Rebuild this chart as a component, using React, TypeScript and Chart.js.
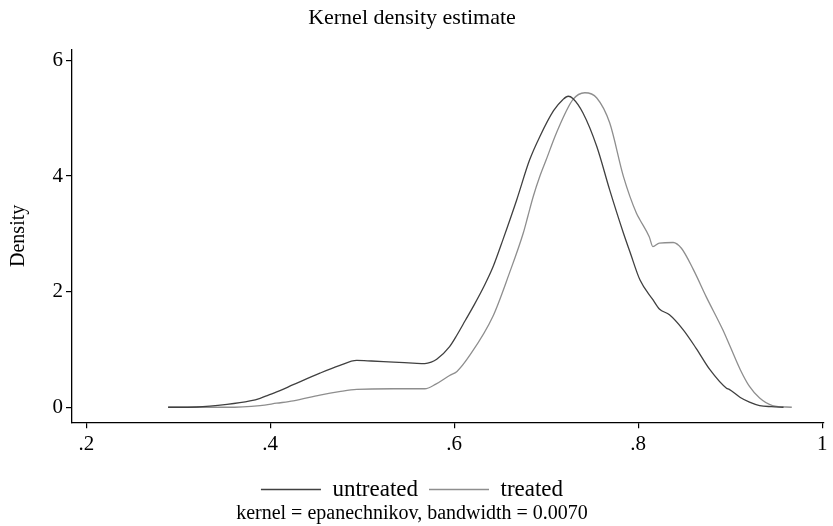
import React, { useEffect, useRef } from "react";
import { Chart, registerables } from "chart.js";

Chart.register(...registerables);

const untreatedX = [0.289, 0.320, 0.353, 0.378, 0.389, 0.398, 0.407, 0.425, 0.454, 0.475, 0.494, 0.510, 0.534, 0.555, 0.568, 0.575, 0.581, 0.595, 0.603, 0.612, 0.622, 0.632, 0.642, 0.653, 0.668, 0.682, 0.693, 0.708, 0.718, 0.724, 0.729, 0.740, 0.755, 0.769, 0.784, 0.791, 0.802, 0.816, 0.823, 0.834, 0.849, 0.863, 0.878, 0.896, 0.899, 0.911, 0.921, 0.932, 0.945, 0.958];
const untreatedY = [0, 0.005, 0.05, 0.11, 0.155, 0.21, 0.265, 0.39, 0.59, 0.72, 0.81, 0.80, 0.78, 0.765, 0.755, 0.78, 0.83, 1.05, 1.25, 1.50, 1.78, 2.08, 2.42, 2.90, 3.59, 4.28, 4.68, 5.13, 5.32, 5.38, 5.34, 5.09, 4.51, 3.76, 3.01, 2.69, 2.20, 1.86, 1.70, 1.60, 1.34, 1.02, 0.65, 0.33, 0.31, 0.17, 0.09, 0.03, 0.01, 0];

const treatedX = [0.289, 0.353, 0.389, 0.407, 0.425, 0.454, 0.475, 0.494, 0.534, 0.568, 0.580, 0.595, 0.603, 0.617, 0.642, 0.660, 0.675, 0.680, 0.686, 0.693, 0.700, 0.711, 0.729, 0.742, 0.755, 0.769, 0.784, 0.798, 0.802, 0.812, 0.816, 0.823, 0.838, 0.847, 0.860, 0.874, 0.892, 0.900, 0.911, 0.921, 0.932, 0.946, 0.967];
const treatedY = [0, 0.0, 0.03, 0.07, 0.11, 0.21, 0.27, 0.31, 0.32, 0.32, 0.40, 0.55, 0.62, 0.90, 1.57, 2.32, 3.01, 3.30, 3.65, 3.99, 4.28, 4.74, 5.32, 5.44, 5.35, 4.92, 3.99, 3.36, 3.24, 2.95, 2.78, 2.84, 2.85, 2.75, 2.38, 1.91, 1.34, 1.05, 0.65, 0.36, 0.16, 0.03, 0];

const xTicks = [0.2, 0.4, 0.6, 0.8, 1];
const yTicks = [0, 2, 4, 6];

const seriesNames = ["untreated", "treated"];
const titleText = "Kernel density estimate";
const yTitleText = "Density";
const noteText = "kernel = epanechnikov, bandwidth = 0.0070";

const FONT = "'Liberation Serif', 'Times New Roman', serif";

export default function App() {
  const ref = useRef<HTMLCanvasElement | null>(null);

  useEffect(() => {
    if (!ref.current) return;
    const toPts = (xs: number[], ys: number[]) => xs.map((x, i) => ({ x, y: ys[i] }));
    const chart = new Chart(ref.current, {
      type: "line",
      data: {
        datasets: [
          {
            label: seriesNames[0],
            data: toPts(untreatedX, untreatedY),
            borderColor: "#404040",
            backgroundColor: "#404040",
            borderWidth: 1.3,
            pointRadius: 0,
            cubicInterpolationMode: "monotone",
            pointStyle: "line",
          },
          {
            label: seriesNames[1],
            data: toPts(treatedX, treatedY),
            borderColor: "#8e8e8e",
            backgroundColor: "#8e8e8e",
            borderWidth: 1.3,
            pointRadius: 0,
            cubicInterpolationMode: "monotone",
            pointStyle: "line",
          },
        ],
      },
      options: {
        responsive: false,
        animation: false,
        layout: { padding: { left: 0, right: 9, top: 0, bottom: 0 } },
        plugins: {
          tooltip: { enabled: false },
          title: {
            display: true,
            text: titleText,
            color: "#000",
            font: { family: FONT, size: 22, weight: "normal" },
            padding: { top: 5, bottom: 18 },
          },
          legend: {
            display: true,
            position: "bottom",
            labels: {
              usePointStyle: true,
              pointStyleWidth: 60,
              color: "#000",
              font: { family: FONT, size: 23 },
              padding: 11,
            },
          },
          subtitle: {
            display: true,
            position: "bottom",
            text: noteText,
            color: "#000",
            font: { family: FONT, size: 20, weight: "normal" },
            padding: { top: -9, bottom: 0 },
          },
        },
        scales: {
          x: {
            type: "linear",
            min: 0.1845,
            max: 1.002,
            afterBuildTicks: (s: any) => {
              s.ticks = xTicks.map((v) => ({ value: v }));
            },
            afterFit: (s: any) => {
              s.height = 44.7;
            },
            ticks: {
              color: "#000",
              font: { family: FONT, size: 21 },
              padding: 4,
              maxRotation: 0,
              callback: (v: any) => (Number(v) === 1 ? "1" : String(Number(v).toFixed(1)).replace(/^0/, "")),
            },
            grid: { drawOnChartArea: false, drawTicks: true, tickLength: 6, color: "#000", lineWidth: 1.2 },
            border: { display: true, color: "#000", width: 1.3 },
          },
          y: {
            type: "linear",
            min: -0.26,
            max: 6.19,
            afterBuildTicks: (s: any) => {
              s.ticks = yTicks.map((v) => ({ value: v }));
            },
            afterFit: (s: any) => {
              s.width = 72;
            },
            ticks: {
              color: "#000",
              font: { family: FONT, size: 21 },
              padding: 3,
              callback: (v: any) => String(v),
            },
            title: {
              display: true,
              text: yTitleText,
              color: "#000",
              font: { family: FONT, size: 20 },
              padding: { top: 7, bottom: 0 },
            },
            grid: { drawOnChartArea: false, drawTicks: true, tickLength: 6, color: "#000", lineWidth: 1.2 },
            border: { display: true, color: "#000", width: 1.3 },
          },
        },
      },
    });
    return () => chart.destroy();
  }, []);

  return (
    <div style={{ position: "absolute", left: 0, top: 0, width: 833, height: 526, background: "#fff" }}>
      <canvas ref={ref} width={833} height={526} />
    </div>
  );
}
